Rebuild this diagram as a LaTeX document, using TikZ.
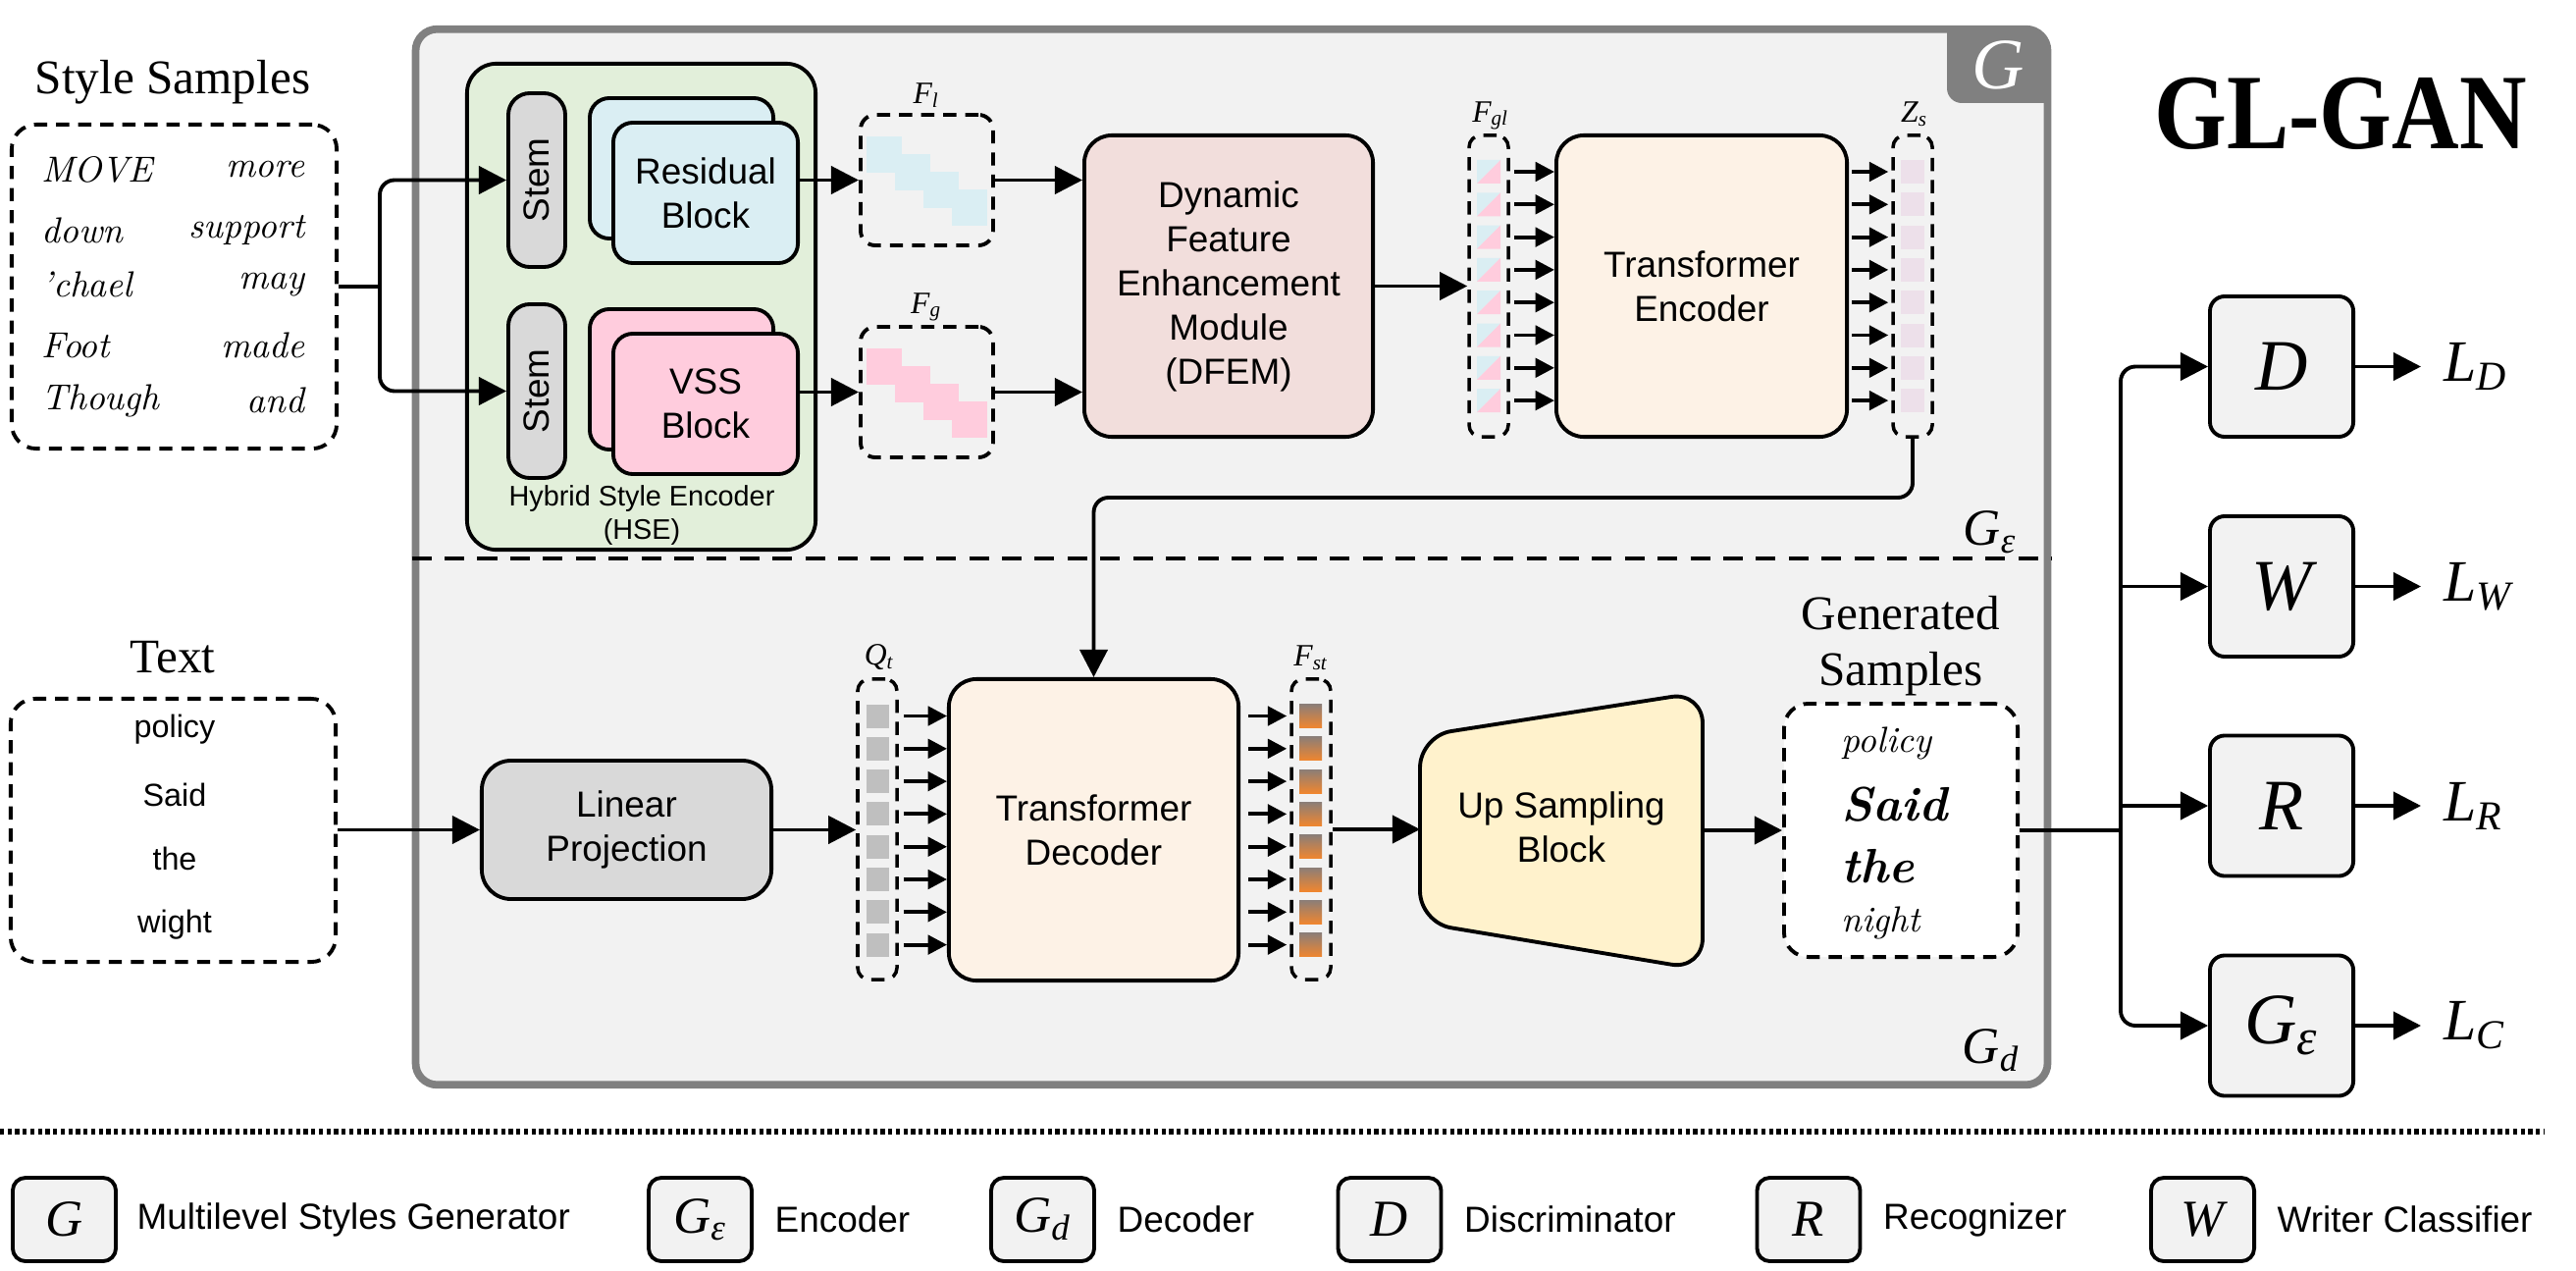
\documentclass[tikz,border=0pt]{standalone}
\usepackage{fontspec}
\usepackage{graphicx}
\setsansfont{Liberation Sans}
\newfontfamily\tnr{Liberation Serif}
\usetikzlibrary{arrows.meta}
\definecolor{gfill}{HTML}{F2F2F2}
\definecolor{gborder}{HTML}{808080}
\definecolor{hsegreen}{HTML}{E2EFDA}
\definecolor{resblue}{HTML}{DAEEF3}
\definecolor{vsspink}{HTML}{FFCCDD}
\definecolor{stemgray}{HTML}{D9D9D9}
\definecolor{dfempink}{HTML}{F2DEDC}
\definecolor{tepeach}{HTML}{FDF2E6}
\definecolor{usyellow}{HTML}{FFF2CC}
\definecolor{zscell}{HTML}{EDE0EA}
\definecolor{qtcell}{HTML}{BFBFBF}
\definecolor{stbrown}{HTML}{8C7E77}
\definecolor{storange}{HTML}{F0862F}
\newcommand\sfnt{\sffamily\fontsize{10.5}{12.8}\selectfont}
\newcommand\hwfont{\rmfamily\itshape\fontsize{10.5}{11}\selectfont}
\begin{document}
\begin{tikzpicture}[x=0.01cm,y=-0.01cm,
  every node/.style={inner sep=0pt},
  blk/.style={draw, line width=1.1pt, rounded corners=0.28cm, align=center, font=\sfnt},
  dbox/.style={draw, line width=1.1pt, dash pattern=on 3.8pt off 2.6pt, rounded corners=0.25cm},
  tbox/.style={draw, line width=1pt, dash pattern=on 3.8pt off 2.6pt, rounded corners=0.12cm, minimum width=0.4cm, minimum height=3.07cm},
  arr/.style={line width=1.1pt, -{Triangle[length=8pt,width=8pt]}},
  sarr/.style={line width=1.1pt, -{Triangle[length=5.5pt,width=5.5pt]}},
  ln/.style={line width=1.1pt},
  hwn/.style={font=\hwfont},
  hwb/.style={font=\rmfamily\itshape\bfseries\fontsize{14}{14}\selectfont},
  sbox/.style={draw, line width=1.1pt, fill=gfill, rounded corners=0.15cm, minimum width=1.46cm, minimum height=1.43cm, font=\tnr\itshape\fontsize{21}{21}\selectfont},
  lbox/.style={draw, line width=1.1pt, fill=gfill, rounded corners=0.13cm, minimum width=1.05cm, minimum height=0.85cm, font=\tnr\itshape\fontsize{15}{15}\selectfont},
  ltxt/.style={anchor=west, font=\sffamily\fontsize{10.5}{12}\selectfont},
  ttl/.style={font=\tnr\fontsize{14}{16.2}\selectfont, align=center},
  flab/.style={font=\tnr\itshape\fontsize{9}{9}\selectfont},
  glab/.style={font=\tnr\itshape\fontsize{15}{15}\selectfont},
  loss/.style={anchor=west, font=\tnr\itshape\fontsize{17}{17}\selectfont}
]
\fill[white] (0,0) rectangle (2625,1294);
\useasboundingbox (0,0) rectangle (2625,1294);

% ---------- generator frame ----------
\node[draw=gborder, line width=2.2pt, fill=gfill, rounded corners=0.22cm,
      minimum width=16.62cm, minimum height=10.75cm] (gbox) at (1255,567.5) {};
\begin{scope}
  \clip[rounded corners=0.22cm] (424,30) rectangle (2086,1105);
  \fill[gborder, rounded corners=0.15cm] (1984,0) rectangle (2130,105);
\end{scope}
\node[font=\tnr\itshape\fontsize{21}{21}\selectfont, text=white] (gtab) at (2036,66) {G};
\draw[line width=1.3pt, dash pattern=on 5.7pt off 3.8pt] (gbox.west |- 0,569) -- (gbox.east |- 0,569);
\node[glab] (gelab) at (2028,542) {G\textsubscript{ε}};
\node[glab] (gdlab) at (2029,1070) {G\textsubscript{d}};

% ---------- title ----------
\node (gltitle) at (2385,116) {\scalebox{1}[1.15]{\tnr\bfseries\fontsize{27}{27}\selectfont GL-GAN}};

% ---------- style samples ----------
\node[ttl] (sstitle) at (176,84) {Style Samples};
\node[dbox, fill=white, minimum width=3.31cm, minimum height=3.30cm] (ss) at (177.5,292) {};
\node[hwn, anchor=west] (w1) at (42,173) {MOVE};
\node[hwn, anchor=west] (w2) at (42,235) {down};
\node[hwn, anchor=west] (w3) at (42,290) {'chael};
\node[hwn, anchor=west] (w4) at (42,352) {Foot};
\node[hwn, anchor=west] (w5) at (42,408) {Though};
\node[hwn, anchor=east] (w6) at (311,173) {more};
\node[hwn, anchor=east] (w7) at (311,235) {support};
\node[hwn, anchor=east] (w8) at (311,290) {may};
\node[hwn, anchor=east] (w9) at (311,352) {made};
\node[hwn, anchor=east] (w10) at (311,408) {and};

% ---------- HSE ----------
\node[blk, fill=hsegreen, rounded corners=0.3cm, minimum width=3.55cm, minimum height=4.95cm] (hse) at (653.5,312.5) {};
\node[blk, fill=stemgray, rounded corners=0.22cm, minimum width=0.58cm, minimum height=1.77cm] (stem1) at (547,183.5) {\rotatebox{90}{Stem}};
\node[blk, fill=stemgray, rounded corners=0.22cm, minimum width=0.58cm, minimum height=1.77cm] (stem2) at (547,398.5) {\rotatebox{90}{Stem}};
\node[blk, fill=resblue, rounded corners=0.2cm, minimum width=1.87cm, minimum height=1.43cm] (resb) at (694.5,171.5) {};
\node[blk, fill=resblue, rounded corners=0.2cm, minimum width=1.88cm, minimum height=1.43cm] (res) at (719,196.5) {Residual\\Block};
\node[blk, fill=vsspink, rounded corners=0.2cm, minimum width=1.87cm, minimum height=1.43cm] (vssb) at (694.5,386.5) {};
\node[blk, fill=vsspink, rounded corners=0.2cm, minimum width=1.88cm, minimum height=1.43cm] (vss) at (719,411.5) {VSS\\Block};
\node[font=\sffamily\fontsize{8.2}{9.8}\selectfont, align=center] (hselab) at (654,525) {Hybrid Style Encoder\\(HSE)};

\coordinate (j1) at (387,292);
\draw[ln] (ss.east |- j1) -- (j1);
\draw[arr, rounded corners=0.15cm] (j1) |- (stem1.west);
\draw[arr, rounded corners=0.15cm] (j1) |- (stem2.west);

% ---------- F_l, F_g ----------
\node[dbox, rounded corners=0.15cm, minimum width=1.35cm, minimum height=1.33cm] (fl) at (944.5,183.5) {};
\node[dbox, rounded corners=0.15cm, minimum width=1.35cm, minimum height=1.33cm] (fg) at (944.5,399.5) {};
\foreach \k in {0,...,3}{
  \fill[resblue] ({883+29*\k},{139+18*\k}) rectangle +(36,37);
  \fill[vsspink] ({883+29*\k},{355+18*\k}) rectangle +(36,37);
}
\node[flab] (fllab) at (944,97) {F\textsubscript{l}};
\node[flab] (fglab) at (944,313) {F\textsubscript{g}};
\draw[arr] (res.east |- fl.west) -- (fl.west);
\draw[arr] (vss.east |- fg.west) -- (fg.west);

% ---------- DFEM ----------
\node[blk, fill=dfempink, minimum width=2.94cm, minimum height=3.07cm] (dfem) at (1252,291.5) {Dynamic\\Feature\\Enhancement\\Module\\(DFEM)};
\draw[arr] (fl.east) -- (fl.east -| dfem.west);
\draw[arr] (fg.east) -- (fg.east -| dfem.west);

% ---------- F_gl, TE, Z_s ----------
\node[tbox] (fgl) at (1517,291.5) {};
\node[flab] (fgllab) at (1519,118) {F\textsubscript{gl}};
\node[blk, fill=tepeach, minimum width=2.96cm, minimum height=3.07cm] (te) at (1734,291.5) {Transformer\\Encoder};
\node[tbox] (zs) at (1949,291.5) {};
\node[flab] (zslab) at (1951,116) {Z\textsubscript{s}};
\draw[arr] (dfem.east) -- (fgl.west);
\foreach \k in {0,...,7}{
  \pgfmathsetmacro\yy{175+33.3*\k}
  \fill[resblue] (1505,\yy-12) -- (1529,\yy-12) -- (1505,\yy+12) -- cycle;
  \fill[vsspink] (1529,\yy-12) -- (1529,\yy+12) -- (1505,\yy+12) -- cycle;
  \fill[zscell] (1937,\yy-12) rectangle (1961,\yy+12);
  \draw[sarr, shorten <=0.04cm] (fgl.east |- 0,\yy) -- (te.west |- 0,\yy);
  \draw[sarr, shorten <=0.03cm, shorten >=0.03cm] (te.east |- 0,\yy) -- (zs.west |- 0,\yy);
}

% ---------- text input ----------
\node[ttl] (texttitle) at (176,670) {Text};
\node[dbox, fill=white, minimum width=3.31cm, minimum height=2.68cm] (tb) at (176.5,846) {};
\foreach \w/\y in {policy/743, Said/810, the/875, wight/942}{
  \node[font=\sffamily\fontsize{9.2}{10}\selectfont] at (178,\y) {\w};
}
\node[blk, fill=stemgray, rounded corners=0.3cm, minimum width=2.95cm, minimum height=1.41cm] (lp) at (638.5,845.5) {Linear\\Projection};
\draw[arr] (tb.east |- lp.west) -- (lp.west);

% ---------- Q_t, TD, F_st ----------
\node[tbox, minimum height=3.06cm] (qt) at (894,845) {};
\node[flab] (qtlab) at (896,670) {Q\textsubscript{t}};
\node[blk, fill=tepeach, minimum width=2.95cm, minimum height=3.07cm] (td) at (1114.5,845.5) {Transformer\\Decoder};
\node[tbox, minimum height=3.06cm] (fst) at (1336,845) {};
\node[flab] (fstlab) at (1336,670) {F\textsubscript{st}};
\draw[arr] (lp.east) -- (lp.east -| qt.west);
\foreach \k in {0,...,7}{
  \pgfmathsetmacro\yy{729.5+33.3*\k}
  \fill[qtcell] (883,\yy-12) rectangle (906,\yy+12);
  \shade[top color=stbrown, bottom color=storange] (1324,\yy-12) rectangle (1347,\yy+12);
  \draw[sarr, shorten <=0.05cm] (qt.east |- 0,\yy) -- (td.west |- 0,\yy);
  \draw[sarr, shorten <=0.08cm, shorten >=0.03cm] (td.east |- 0,\yy) -- (fst.west |- 0,\yy);
}
\draw[arr, rounded corners=0.15cm] (zs.south) -- (1949,507) -| (td.north);

% ---------- up sampling ----------
\draw[line width=1.1pt, fill=usyellow, rounded corners=0.32cm] (1447,750) -- (1735,705) -- (1735,988) -- (1447,940) -- cycle;
\node[font=\sfnt, align=center] (us) at (1591,843) {Up Sampling\\Block};
\coordinate (usin) at (1447,845);
\coordinate (usout) at (1735,846);
\draw[arr] (fst.east |- usin) -- (usin);

% ---------- generated samples ----------
\node[ttl] (gstitle) at (1937,658) {Generated\\Samples};
\node[dbox, fill=white, minimum width=2.38cm, minimum height=2.58cm] (gs) at (1937,846) {};
\node[hwn, anchor=west] (g1) at (1876,757) {policy};
\node[hwb, anchor=west] (g2) at (1876,820) {Said};
\node[hwb, anchor=west] (g3) at (1876,883) {the};
\node[hwn, anchor=west] (g4) at (1876,940) {night};
\draw[arr] (usout) -- (gs.west |- usout);

% ---------- discriminators ----------
\node[sbox] (dd) at (2325,373.5) {D};
\node[sbox] (ww) at (2325,597.5) {W};
\node[sbox] (rr) at (2325,821) {R};
\node[sbox] (ge) at (2325,1045) {G\textsubscript{ε}};
\coordinate (jn) at (2161,846);
\draw[ln] (gs.east) -- (jn);
\draw[arr, rounded corners=0.15cm] (jn) |- (dd.west);
\draw[arr, rounded corners=0.15cm] (jn) |- (ge.west);
\draw[arr] (jn |- ww.west) -- (ww.west);
\draw[arr] (jn |- rr.west) -- (rr.west);
\node[loss] (ld) at (2490,373.5) {L\textsubscript{D}};
\node[loss] (lw) at (2490,597.5) {L\textsubscript{W}};
\node[loss] (lr) at (2490,821) {L\textsubscript{R}};
\node[loss] (lc) at (2490,1045) {L\textsubscript{C}};
\draw[arr, shorten >=0.23cm] (dd.east) -- (dd.east -| ld.west);
\draw[arr, shorten >=0.23cm] (ww.east) -- (ww.east -| lw.west);
\draw[arr, shorten >=0.23cm] (rr.east) -- (rr.east -| lr.west);
\draw[arr, shorten >=0.23cm] (ge.east) -- (ge.east -| lc.west);

% ---------- legend ----------
\draw[line width=1.6pt, dash pattern=on 1.2pt off 1.0pt] (0,1153) -- (2592,1153);
\node[lbox] (lg) at (65.5,1242.5) {G};
\node[ltxt] at ([xshift=0.19cm]lg.east) {Multilevel Styles Generator};
\node[lbox] (lge) at (713.5,1242.5) {G\textsubscript{ε}};
\node[ltxt] at ([xshift=0.21cm]lge.east) {Encoder};
\node[lbox] (lgd) at (1062.5,1242.5) {G\textsubscript{d}};
\node[ltxt] at ([xshift=0.21cm]lgd.east) {Decoder};
\node[lbox] (lD) at (1416,1242.5) {D};
\node[ltxt] at ([xshift=0.21cm]lD.east) {Discriminator};
\node[lbox] (lR) at (1843,1242.5) {R};
\node[ltxt] at ([xshift=0.21cm]lR.east) {Recognizer};
\node[lbox] (lW) at (2244.5,1242.5) {W};
\node[ltxt] at ([xshift=0.21cm]lW.east) {Writer Classifier};
\end{tikzpicture}
\end{document}
